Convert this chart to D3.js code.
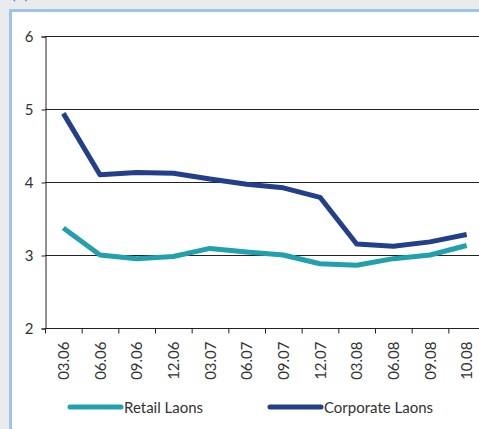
<!DOCTYPE html>
<html>
<head>
<meta charset="utf-8">
<script src="https://cdn.jsdelivr.net/npm/d3@7"></script>
<style>
  html, body { margin: 0; padding: 0; background: #ebebee; overflow: hidden; }
  svg { display: block; }
  text { font-family: Lato, "Open Sans", sans-serif; }
</style>
</head>
<body>
<script>
// Quarterly loan interest rates (%), retail vs corporate
const periods = ["03.06","06.06","09.06","12.06","03.07","06.07","09.07","12.07","03.08","06.08","09.08","10.08"];
const retailLoans = [3.37, 3.00, 2.95, 2.98, 3.09, 3.04, 3.00, 2.88, 2.86, 2.95, 3.00, 3.13];
const corporateLoans = [4.94, 4.10, 4.13, 4.12, 4.04, 3.97, 3.92, 3.79, 3.15, 3.12, 3.18, 3.28];
const yTicks = [2, 3, 4, 5, 6];
const seriesNames = ["Retail Laons", "Corporate Laons"];
const seriesColors = ["#22a0ac", "#213f8b"];

const W = 479, H = 429;
const svg = d3.select("body").append("svg").attr("width", W).attr("height", H);

// panel
svg.append("rect").attr("x", 10.5).attr("y", 10.5).attr("width", W + 20).attr("height", H + 20)
  .attr("fill", "#fff").attr("stroke", "#9cc3e8").attr("stroke-width", 3);

// panel heading, mostly above the visible area
svg.append("text").attr("x", 11).attr("y", -1).attr("font-size", 17)
  .attr("fill", "#2f8bd3").text("(b)");

const plotLeft = 45, plotRight = 485, plotTop = 36, plotBottom = 328;

const x = d3.scaleBand().domain(periods).range([plotLeft, plotRight]).padding(0);
const y = d3.scaleLinear().domain([2, 6]).range([plotBottom, plotTop]);

// horizontal grid lines
svg.append("g").selectAll("line").data(yTicks).join("line")
  .attr("x1", plotLeft).attr("x2", W + 10)
  .attr("y1", d => y(d) + 0.5).attr("y2", d => y(d) + 0.5)
  .attr("stroke", "#222").attr("stroke-width", 1);

// y axis
const yAxis = svg.append("g").attr("transform", `translate(${plotLeft + 0.5},0.5)`)
  .call(d3.axisLeft(y).tickValues(yTicks).tickSize(4).tickPadding(8).tickFormat(d3.format("d")));
yAxis.select(".domain").attr("stroke", "#222");
yAxis.selectAll(".tick line").attr("stroke", "#222");
yAxis.selectAll(".tick text").attr("font-size", 15).attr("fill", "#333");

// x axis with ticks at band boundaries
const xg = svg.append("g").attr("transform", `translate(0.5,${plotBottom + 0.5})`);
xg.append("line").attr("x1", plotLeft).attr("x2", W + 10).attr("stroke", "#222");
xg.selectAll("line.tk").data(periods).join("line").attr("class", "tk")
  .attr("x1", d => x(d)).attr("x2", d => x(d)).attr("y1", 0).attr("y2", 5)
  .attr("stroke", "#222");
xg.selectAll("text").data(periods).join("text")
  .attr("transform", d => `translate(${x(d) + x.bandwidth() / 2 + 5},13) rotate(-90)`)
  .attr("text-anchor", "end").attr("font-size", 15).attr("fill", "#333")
  .text(d => d);

// series lines
const line = d3.line().x((d, i) => x(periods[i]) + x.bandwidth() / 2).y(d => y(d));
[retailLoans, corporateLoans].forEach((vals, k) => {
  svg.append("path").datum(vals).attr("d", line)
    .attr("fill", "none").attr("stroke", seriesColors[k]).attr("stroke-width", 5)
    .attr("stroke-linejoin", "round").attr("stroke-linecap", "butt");
});

// legend
const legendX = [70, 270];
seriesNames.forEach((name, k) => {
  const g = svg.append("g").attr("transform", `translate(${legendX[k]},407)`);
  g.append("line").attr("x1", 0).attr("x2", 51).attr("stroke", seriesColors[k])
    .attr("stroke-width", 5).attr("stroke-linecap", "round");
  g.append("text").attr("x", 54).attr("y", 6).attr("font-size", 15).attr("fill", "#333").text(name);
});
</script>
</body>
</html>
